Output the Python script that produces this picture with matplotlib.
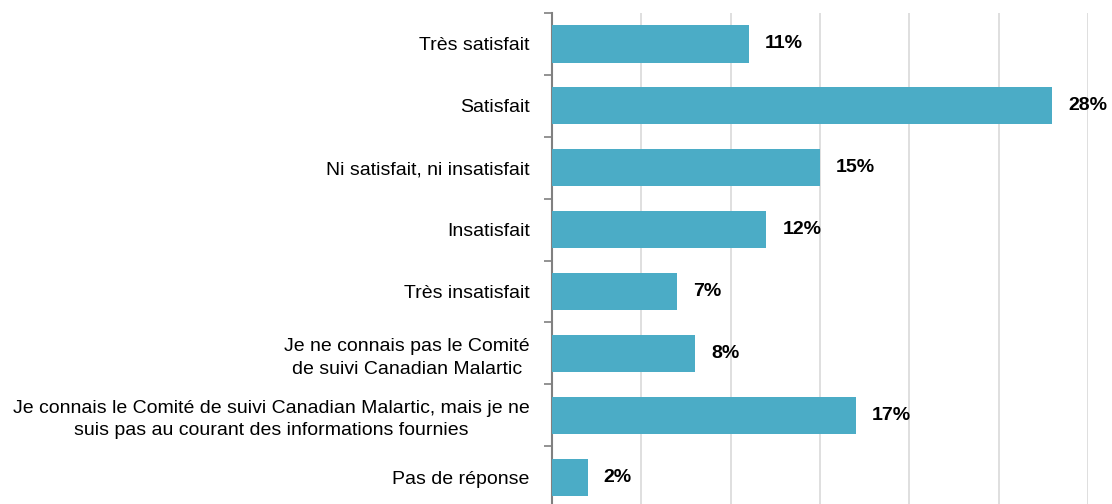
import matplotlib.pyplot as plt

plt.rcParams['font.family'] = ['Liberation Sans', 'DejaVu Sans']

categories = [
    'Très satisfait',
    'Satisfait',
    'Ni satisfait, ni insatisfait',
    'Insatisfait',
    'Très insatisfait',
    'Je ne connais pas le Comité\nde suivi Canadian Malartic',
    'Je connais le Comité de suivi Canadian Malartic, mais je ne\nsuis pas au courant des informations fournies',
    'Pas de réponse',
]
values = [11, 28, 15, 12, 7, 8, 17, 2]

bar_color = '#4BACC6'

fig = plt.figure(figsize=(11.12, 5.04), dpi=100)
ax = fig.add_axes([552 / 1112, 1 - 508 / 504, (1088 - 552) / 1112, (508 - 13) / 504])

y = list(range(len(categories)))
ax.barh(y, values, height=0.6, color=bar_color, zorder=3)

for yi, v in zip(y, values):
    ax.text(v + 0.9, yi, f'{v}%', va='center', ha='left',
            fontsize=14, fontweight='bold', color='black')

ax.set_xlim(0, 30)
ax.set_ylim(len(categories) - 0.5, -0.5)
ax.set_xticks([0, 5, 10, 15, 20, 25, 30])
ax.xaxis.grid(True, color='#d9d9d9', linewidth=1.2, zorder=0)
ax.tick_params(axis='x', length=0, labelbottom=False)

# graduations entre les catégories sur l'axe vertical
ax.set_yticks(y)
ax.set_yticklabels(categories, fontsize=14, multialignment='center', linespacing=1.4)
ax.tick_params(axis='y', length=0, pad=16)
ax.set_yticks([i - 0.5 for i in range(len(categories) + 1)], minor=True)
ax.tick_params(axis='y', which='minor', length=6, width=1.2, color='#808080')

for side in ['top', 'right', 'bottom']:
    ax.spines[side].set_visible(False)
ax.spines['left'].set_color('#808080')
ax.spines['left'].set_linewidth(1.5)

fig.savefig('out.png', dpi=100)
